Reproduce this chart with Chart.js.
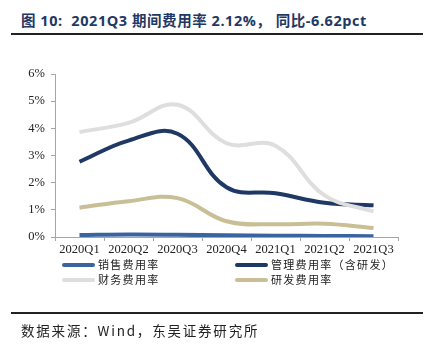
<!DOCTYPE html>
<html><head><meta charset="utf-8">
<script src="https://cdn.jsdelivr.net/npm/chart.js@4"></script>
<style>
html,body{margin:0;padding:0;background:#fff;}
#wrap{position:relative;width:433px;height:356px;overflow:hidden;}
#title{position:absolute;left:21px;top:9px;font:bold 14.5px "Open Sans","Noto Sans CJK SC",sans-serif;color:#1f3864;white-space:nowrap;letter-spacing:0.55px;}
.rule{position:absolute;left:11px;width:412px;height:1.5px;background:#222;}
#src{position:absolute;left:21px;top:320px;font:13.5px "Noto Sans CJK SC",sans-serif;color:#222;white-space:nowrap;letter-spacing:1.8px;}
#cv{position:absolute;left:0;top:0;}
.leg{position:absolute;font:11px "Noto Sans CJK SC",sans-serif;color:#222;white-space:nowrap;letter-spacing:1.3px;line-height:14px;}
.leg i{display:inline-block;width:33px;height:3.5px;vertical-align:middle;margin-right:3px;border-radius:2px;position:relative;top:-1px;}
</style></head>
<body><div id="wrap">
<div id="title">图 10:&nbsp; 2021Q3 期间费用率 2.12%，&nbsp;同比-6.62pct</div>
<div class="rule" style="top:33px"></div>
<canvas id="cv" width="433" height="356"></canvas>
<div id="legend"></div>
<div class="rule" style="top:312px"></div>
<div id="src">数据来源：Wind，东吴证券研究所</div>
</div>
<script>
const categories = ["2020Q1","2020Q2","2020Q3","2020Q4","2021Q1","2021Q2","2021Q3"];
const salesRate   = [0.07, 0.09, 0.08, 0.06, 0.05, 0.04, 0.03];
const mgmtRate    = [2.77, 3.55, 3.80, 1.83, 1.61, 1.26, 1.17];
const financeRate = [3.86, 4.20, 4.87, 3.45, 3.36, 1.53, 0.94];
const rdRate      = [1.08, 1.32, 1.43, 0.58, 0.47, 0.49, 0.33];
const seriesNames = ["销售费用率","管理费用率（含研发）","财务费用率","研发费用率"];
const yTicks = [0,1,2,3,4,5,6];

const colors = ["#3a64a0","#1f3864","#dedede","#c8bf97"];
const dataArr = [salesRate, mgmtRate, financeRate, rdRate];
const order = [3,1,0,2];
const datasets = seriesNames.map((n,i)=>({
  label:n, data:dataArr[i], borderColor:colors[i], backgroundColor:colors[i],
  borderWidth:4, pointRadius:0, tension:0.4, fill:false, order:order[i],
  borderCapStyle:'butt'
}));

new Chart(document.getElementById('cv'),{
  type:'line',
  data:{labels:categories,datasets},
  options:{
    responsive:false, animation:false,
    layout:{padding:{left:0,top:74,right:35,bottom:99}},
    plugins:{legend:{display:false},tooltip:{enabled:false}},
    scales:{
      x:{
        offset:true,
        grid:{display:true,drawOnChartArea:false,drawTicks:true,tickLength:4,color:'#a6a6a6',offset:true},
        border:{display:true,color:'#a6a6a6',width:1},
        ticks:{font:{family:'"Liberation Serif","Times New Roman",serif',size:12.5},color:'#222',padding:1,maxRotation:0,autoSkip:false},
        afterFit:s=>{s.height=20;}
      },
      y:{
        min:0,max:6,
        afterBuildTicks:s=>{s.ticks=yTicks.map(v=>({value:v}));},
        grid:{display:true,drawOnChartArea:false,drawTicks:true,tickLength:4,color:'#a6a6a6'},
        border:{display:true,color:'#a6a6a6',width:1},
        ticks:{font:{family:'"Liberation Serif","Times New Roman",serif',size:12.5},color:'#222',padding:6,callback:v=>v+'%'},
        afterFit:s=>{s.width=55;}
      }
    }
  }
});

const legPos = [[62,257],[235,257],[62,272],[235,272]];
const lg = document.getElementById('legend');
seriesNames.forEach((n,i)=>{
  const d=document.createElement('div');
  d.className='leg';
  d.style.left=legPos[i][0]+'px'; d.style.top=legPos[i][1]+'px';
  d.innerHTML='<i style="background:'+colors[i]+'"></i>'+n;
  lg.appendChild(d);
});
</script>
</body></html>
